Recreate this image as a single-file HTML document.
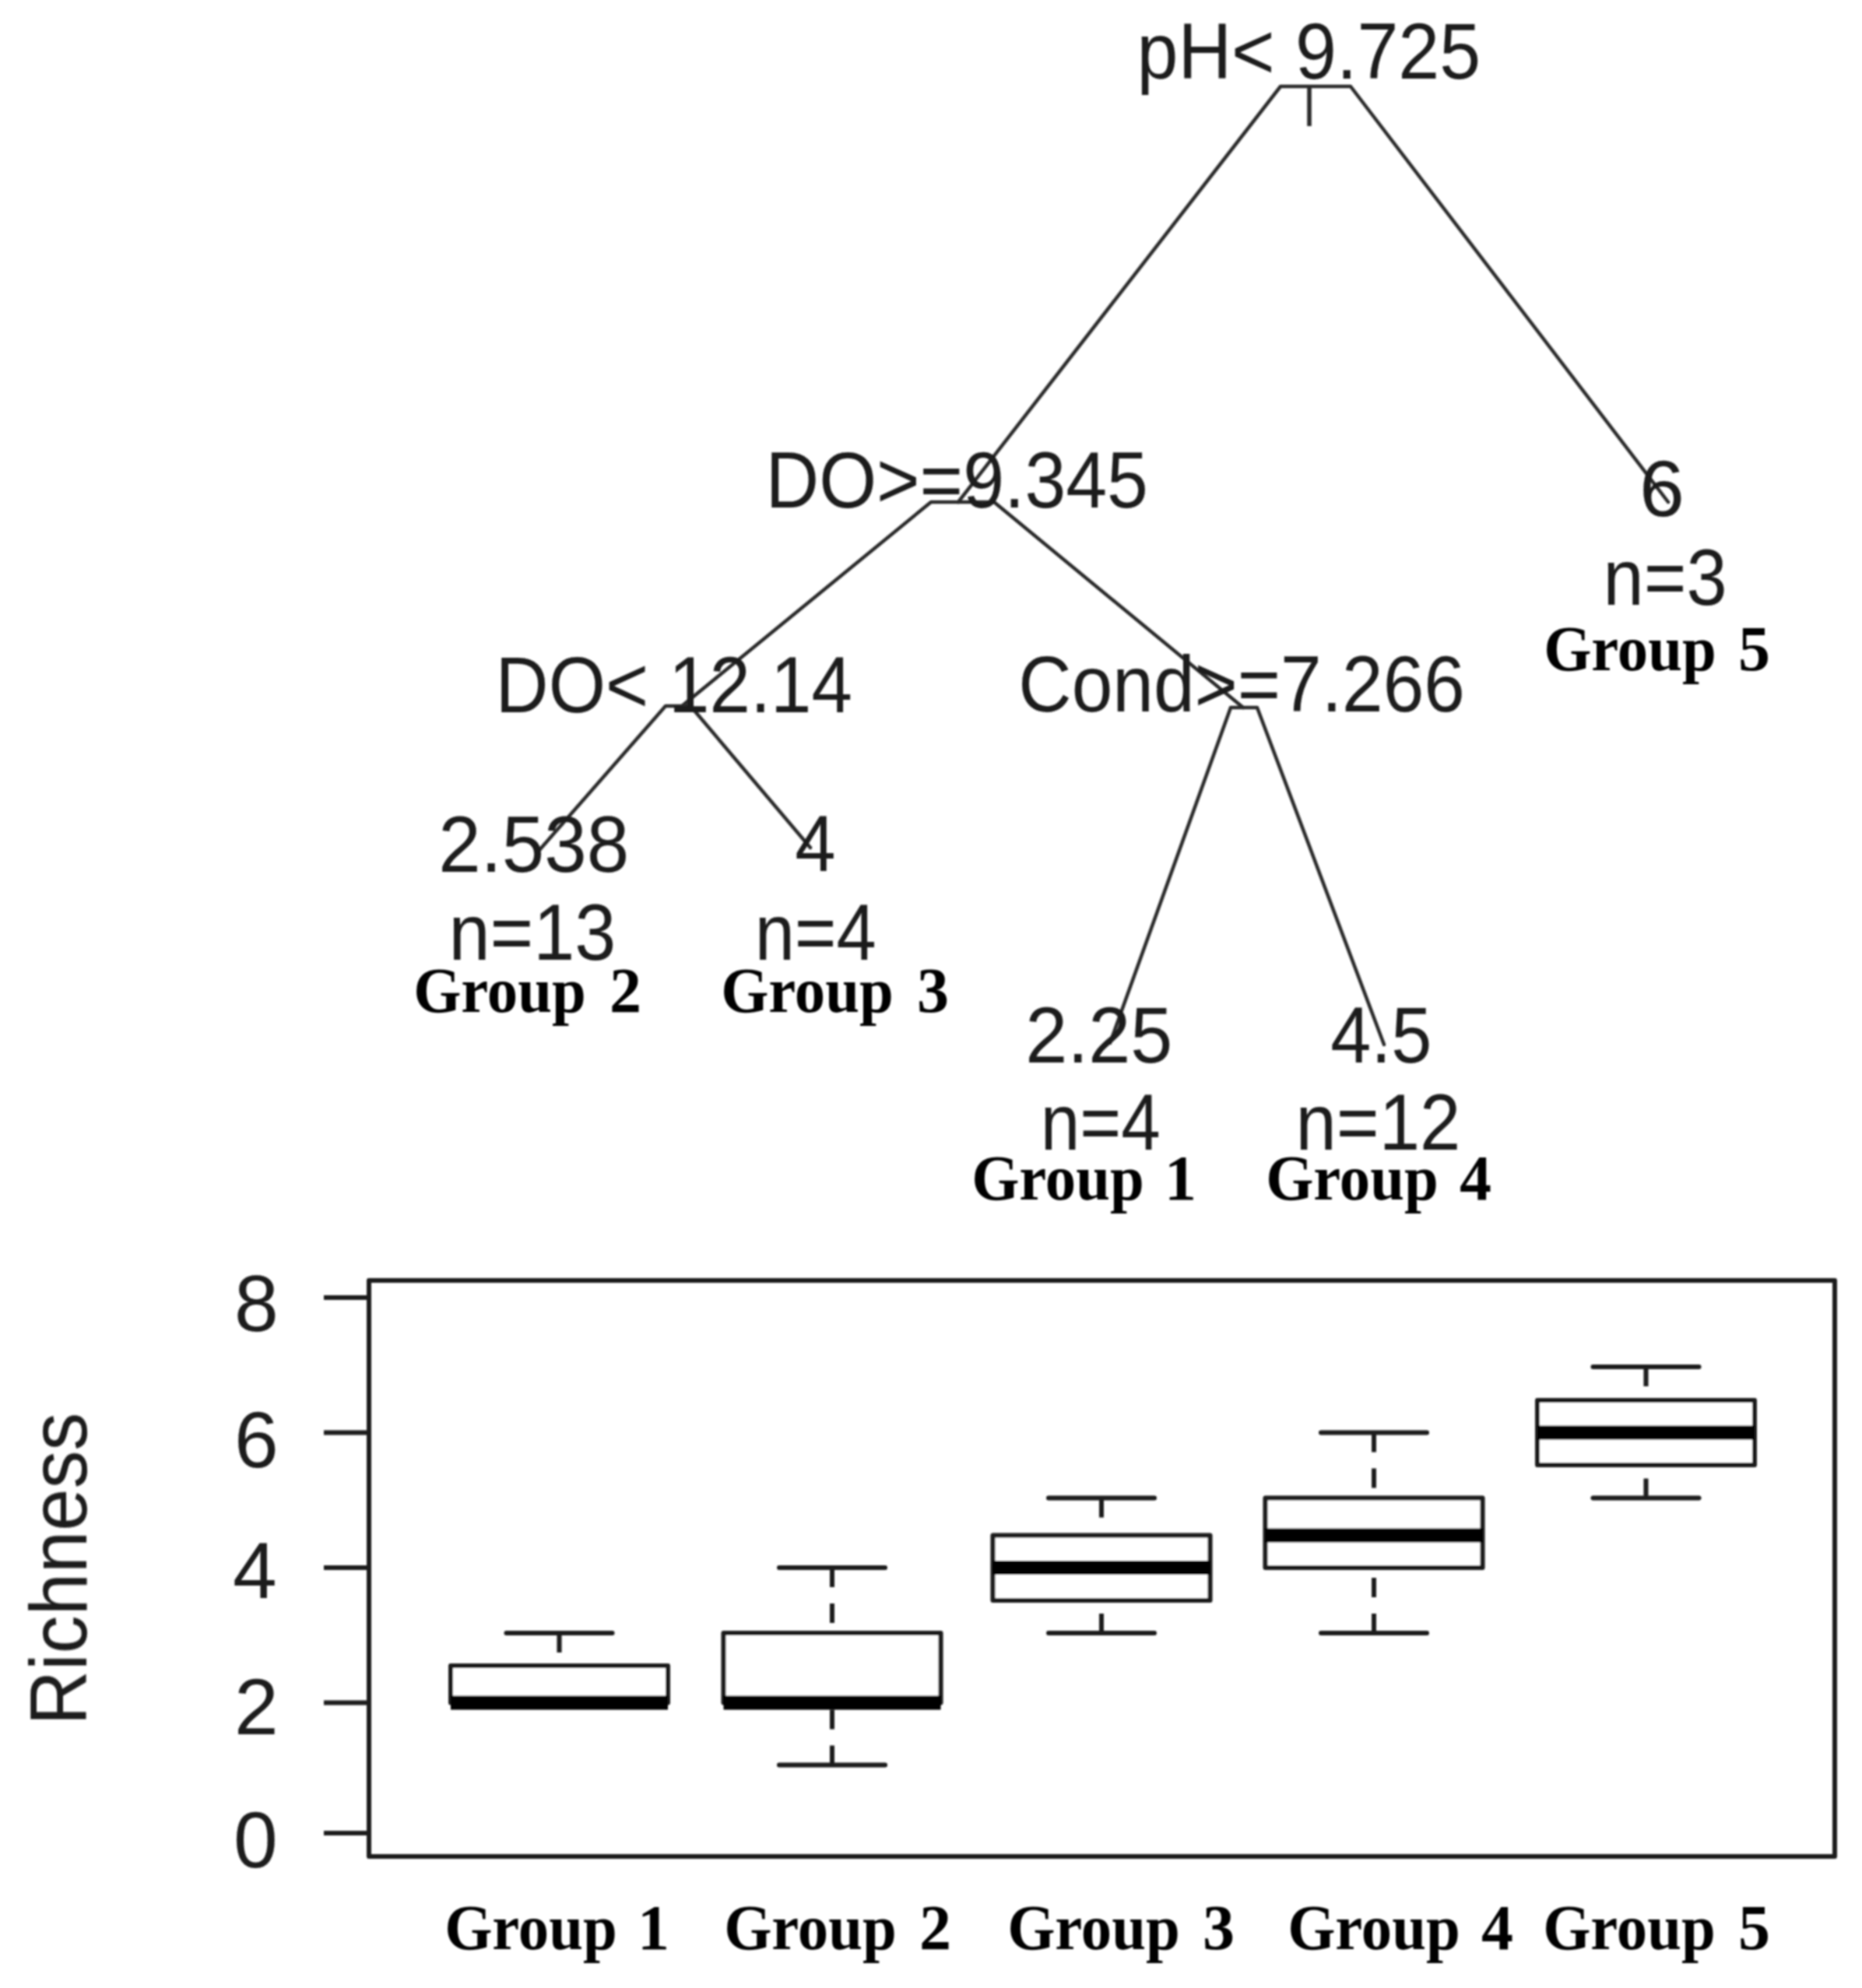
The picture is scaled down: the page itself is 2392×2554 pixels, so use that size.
<!DOCTYPE html><html><head><meta charset='utf-8'><style>html,body{margin:0;padding:0;background:#fff;}svg text{font-kerning:normal}</style></head><body><svg width='2392' height='2554' viewBox='0 0 2392 2554' style='display:block'>
<rect width='2392' height='2554' fill='#fff'/>
<defs><filter id='bl' x='0' y='0' width='100%' height='100%' filterUnits='userSpaceOnUse'><feGaussianBlur stdDeviation='1.2'/></filter></defs>
<g filter='url(#bl)'>
<polyline points='1231,645 1645,111 1735,111 2143,645' fill='none' stroke='#2a2a2a' stroke-width='4.5' stroke-linejoin='round' stroke-linecap='round'/>
<polyline points='876,907 1196,645 1277,645 1597,909' fill='none' stroke='#2a2a2a' stroke-width='4.5' stroke-linejoin='round' stroke-linecap='round'/>
<polyline points='693,1092 855,907 887,907 1041,1089' fill='none' stroke='#2a2a2a' stroke-width='4.5' stroke-linejoin='round' stroke-linecap='round'/>
<polyline points='1426,1340 1581,909 1615,909 1778,1342' fill='none' stroke='#2a2a2a' stroke-width='4.5' stroke-linejoin='round' stroke-linecap='round'/>
<line x1='1682' y1='111' x2='1682' y2='162' stroke='#2a2a2a' stroke-width='5.5'/>
<rect x='474' y='1645' width='1883' height='740' fill='none' stroke='#1a1a1a' stroke-width='6' stroke-linejoin='round'/>
<line x1='416' y1='2355' x2='474' y2='2355' stroke='#1a1a1a' stroke-width='6'/>
<line x1='416' y1='2187.5' x2='474' y2='2187.5' stroke='#1a1a1a' stroke-width='6'/>
<line x1='416' y1='2014' x2='474' y2='2014' stroke='#1a1a1a' stroke-width='6'/>
<line x1='416' y1='1840.5' x2='474' y2='1840.5' stroke='#1a1a1a' stroke-width='6'/>
<line x1='416' y1='1667' x2='474' y2='1667' stroke='#1a1a1a' stroke-width='6'/>
<line x1='718.5' y1='2098' x2='718.5' y2='2140' stroke='#1a1a1a' stroke-width='6' stroke-dasharray='25 21'/>
<line x1='650.5' y1='2098' x2='786.5' y2='2098' stroke='#1a1a1a' stroke-width='6' stroke-linecap='round'/>
<line x1='650.5' y1='2187.5' x2='786.5' y2='2187.5' stroke='#1a1a1a' stroke-width='6' stroke-linecap='round'/>
<rect x='579.0' y='2140' width='279' height='47.5' fill='#fff' stroke='#1a1a1a' stroke-width='6' stroke-linejoin='round'/>
<line x1='579.0' y1='2187.5' x2='858.0' y2='2187.5' stroke='#000' stroke-width='18'/>
<line x1='1069' y1='2014' x2='1069' y2='2098' stroke='#1a1a1a' stroke-width='6' stroke-dasharray='25 21'/>
<line x1='1069' y1='2267.5' x2='1069' y2='2187.5' stroke='#1a1a1a' stroke-width='6' stroke-dasharray='25 21'/>
<line x1='1001.0' y1='2014' x2='1137.0' y2='2014' stroke='#1a1a1a' stroke-width='6' stroke-linecap='round'/>
<line x1='1001.0' y1='2267.5' x2='1137.0' y2='2267.5' stroke='#1a1a1a' stroke-width='6' stroke-linecap='round'/>
<rect x='929.5' y='2098' width='279' height='89.5' fill='#fff' stroke='#1a1a1a' stroke-width='6' stroke-linejoin='round'/>
<line x1='929.5' y1='2187.5' x2='1208.5' y2='2187.5' stroke='#000' stroke-width='18'/>
<line x1='1415' y1='1924.5' x2='1415' y2='1972.5' stroke='#1a1a1a' stroke-width='6' stroke-dasharray='25 21'/>
<line x1='1415' y1='2098' x2='1415' y2='2056' stroke='#1a1a1a' stroke-width='6' stroke-dasharray='25 21'/>
<line x1='1347.0' y1='1924.5' x2='1483.0' y2='1924.5' stroke='#1a1a1a' stroke-width='6' stroke-linecap='round'/>
<line x1='1347.0' y1='2098' x2='1483.0' y2='2098' stroke='#1a1a1a' stroke-width='6' stroke-linecap='round'/>
<rect x='1275.5' y='1972.5' width='279' height='83.5' fill='#fff' stroke='#1a1a1a' stroke-width='6' stroke-linejoin='round'/>
<line x1='1275.5' y1='2014' x2='1554.5' y2='2014' stroke='#000' stroke-width='18'/>
<line x1='1765' y1='1840.5' x2='1765' y2='1924.5' stroke='#1a1a1a' stroke-width='6' stroke-dasharray='25 21'/>
<line x1='1765' y1='2098' x2='1765' y2='2014' stroke='#1a1a1a' stroke-width='6' stroke-dasharray='25 21'/>
<line x1='1697.0' y1='1840.5' x2='1833.0' y2='1840.5' stroke='#1a1a1a' stroke-width='6' stroke-linecap='round'/>
<line x1='1697.0' y1='2098' x2='1833.0' y2='2098' stroke='#1a1a1a' stroke-width='6' stroke-linecap='round'/>
<rect x='1625.5' y='1924.5' width='279' height='89.5' fill='#fff' stroke='#1a1a1a' stroke-width='6' stroke-linejoin='round'/>
<line x1='1625.5' y1='1972.5' x2='1904.5' y2='1972.5' stroke='#000' stroke-width='18'/>
<line x1='2114.5' y1='1756' x2='2114.5' y2='1799' stroke='#1a1a1a' stroke-width='6' stroke-dasharray='25 21'/>
<line x1='2114.5' y1='1924.5' x2='2114.5' y2='1882' stroke='#1a1a1a' stroke-width='6' stroke-dasharray='25 21'/>
<line x1='2046.5' y1='1756' x2='2182.5' y2='1756' stroke='#1a1a1a' stroke-width='6' stroke-linecap='round'/>
<line x1='2046.5' y1='1924.5' x2='2182.5' y2='1924.5' stroke='#1a1a1a' stroke-width='6' stroke-linecap='round'/>
<rect x='1975.0' y='1799' width='279' height='83' fill='#fff' stroke='#1a1a1a' stroke-width='6' stroke-linejoin='round'/>
<line x1='1975.0' y1='1840.5' x2='2254.0' y2='1840.5' stroke='#000' stroke-width='18'/>
<text transform='translate(1460.47,101) scale(0.9329,1)' font-family='Liberation Sans' font-weight='400' font-size='102' fill='#1c1c1c'>pH&lt; 9.725</text>
<text transform='translate(983.54,652) scale(0.9320,1)' font-family='Liberation Sans' font-weight='400' font-size='102' fill='#1c1c1c'>DO&gt;=9.345</text>
<text transform='translate(636.61,915) scale(0.9237,1)' font-family='Liberation Sans' font-weight='400' font-size='102' fill='#1c1c1c'>DO&lt; 12.14</text>
<text transform='translate(1308.36,914) scale(0.9278,1)' font-family='Liberation Sans' font-weight='400' font-size='102' fill='#1c1c1c'>Cond&gt;=7.266</text>
<text transform='translate(563.20,1120) scale(0.9593,1)' font-family='Liberation Sans' font-weight='400' font-size='102' fill='#1c1c1c'>2.538</text>
<text transform='translate(576.45,1233) scale(0.9358,1)' font-family='Liberation Sans' font-weight='400' font-size='102' fill='#1c1c1c'>n=13</text>
<text transform='translate(1021.15,1119) scale(0.9231,1)' font-family='Liberation Sans' font-weight='400' font-size='102' fill='#1c1c1c'>4</text>
<text transform='translate(969.69,1233) scale(0.9018,1)' font-family='Liberation Sans' font-weight='400' font-size='102' fill='#1c1c1c'>n=4</text>
<text transform='translate(2105.89,663) scale(1.0213,1)' font-family='Liberation Sans' font-weight='400' font-size='102' fill='#1c1c1c'>6</text>
<text transform='translate(2059.57,777) scale(0.9193,1)' font-family='Liberation Sans' font-weight='400' font-size='102' fill='#1c1c1c'>n=3</text>
<text transform='translate(1317.24,1365) scale(0.9524,1)' font-family='Liberation Sans' font-weight='400' font-size='102' fill='#1c1c1c'>2.25</text>
<text transform='translate(1709.16,1365) scale(0.9185,1)' font-family='Liberation Sans' font-weight='400' font-size='102' fill='#1c1c1c'>4.5</text>
<text transform='translate(1336.77,1477) scale(0.8896,1)' font-family='Liberation Sans' font-weight='400' font-size='102' fill='#1c1c1c'>n=4</text>
<text transform='translate(1664.55,1477) scale(0.9220,1)' font-family='Liberation Sans' font-weight='400' font-size='102' fill='#1c1c1c'>n=12</text>
<text transform='translate(1983.16,861) scale(0.9596,1)' font-family='Liberation Serif' font-weight='700' font-size='82' fill='#000'>Group</text>
<text x='2233.00' y='861' font-family='Liberation Serif' font-weight='700' font-size='82' fill='#000'>5</text>
<text transform='translate(531.16,1300) scale(0.9596,1)' font-family='Liberation Serif' font-weight='700' font-size='82' fill='#000'>Group</text>
<text x='783.00' y='1300' font-family='Liberation Serif' font-weight='700' font-size='82' fill='#000'>2</text>
<text transform='translate(926.16,1300) scale(0.9596,1)' font-family='Liberation Serif' font-weight='700' font-size='82' fill='#000'>Group</text>
<text x='1178.00' y='1300' font-family='Liberation Serif' font-weight='700' font-size='82' fill='#000'>3</text>
<text transform='translate(1248.16,1541) scale(0.9596,1)' font-family='Liberation Serif' font-weight='700' font-size='82' fill='#000'>Group</text>
<text x='1496.00' y='1541' font-family='Liberation Serif' font-weight='700' font-size='82' fill='#000'>1</text>
<text transform='translate(1626.16,1541) scale(0.9596,1)' font-family='Liberation Serif' font-weight='700' font-size='82' fill='#000'>Group</text>
<text x='1875.00' y='1541' font-family='Liberation Serif' font-weight='700' font-size='82' fill='#000'>4</text>
<text transform='translate(571.16,2504) scale(0.9596,1)' font-family='Liberation Serif' font-weight='700' font-size='82' fill='#000'>Group</text>
<text x='819.00' y='2504' font-family='Liberation Serif' font-weight='700' font-size='82' fill='#000'>1</text>
<text transform='translate(930.16,2504) scale(0.9596,1)' font-family='Liberation Serif' font-weight='700' font-size='82' fill='#000'>Group</text>
<text x='1181.00' y='2504' font-family='Liberation Serif' font-weight='700' font-size='82' fill='#000'>2</text>
<text transform='translate(1294.16,2504) scale(0.9596,1)' font-family='Liberation Serif' font-weight='700' font-size='82' fill='#000'>Group</text>
<text x='1545.00' y='2504' font-family='Liberation Serif' font-weight='700' font-size='82' fill='#000'>3</text>
<text transform='translate(1654.16,2504) scale(0.9596,1)' font-family='Liberation Serif' font-weight='700' font-size='82' fill='#000'>Group</text>
<text x='1903.00' y='2504' font-family='Liberation Serif' font-weight='700' font-size='82' fill='#000'>4</text>
<text transform='translate(1982.16,2504) scale(0.9596,1)' font-family='Liberation Serif' font-weight='700' font-size='82' fill='#000'>Group</text>
<text x='2233.00' y='2504' font-family='Liberation Serif' font-weight='700' font-size='82' fill='#000'>5</text>
<text x='301' y='1710' font-family='Liberation Sans' font-size='102' fill='#1c1c1c'>8</text>
<text x='301' y='1885' font-family='Liberation Sans' font-size='102' fill='#1c1c1c'>6</text>
<text x='299' y='2053' font-family='Liberation Sans' font-size='102' fill='#1c1c1c'>4</text>
<text x='301' y='2228' font-family='Liberation Sans' font-size='102' fill='#1c1c1c'>2</text>
<text x='300' y='2399' font-family='Liberation Sans' font-size='102' fill='#1c1c1c'>0</text>
<text transform='translate(111,2216.59) rotate(-90) scale(0.9490,1)' font-family='Liberation Sans' font-size='103' fill='#1c1c1c'>Richness</text>
</g>
</svg></body></html>
